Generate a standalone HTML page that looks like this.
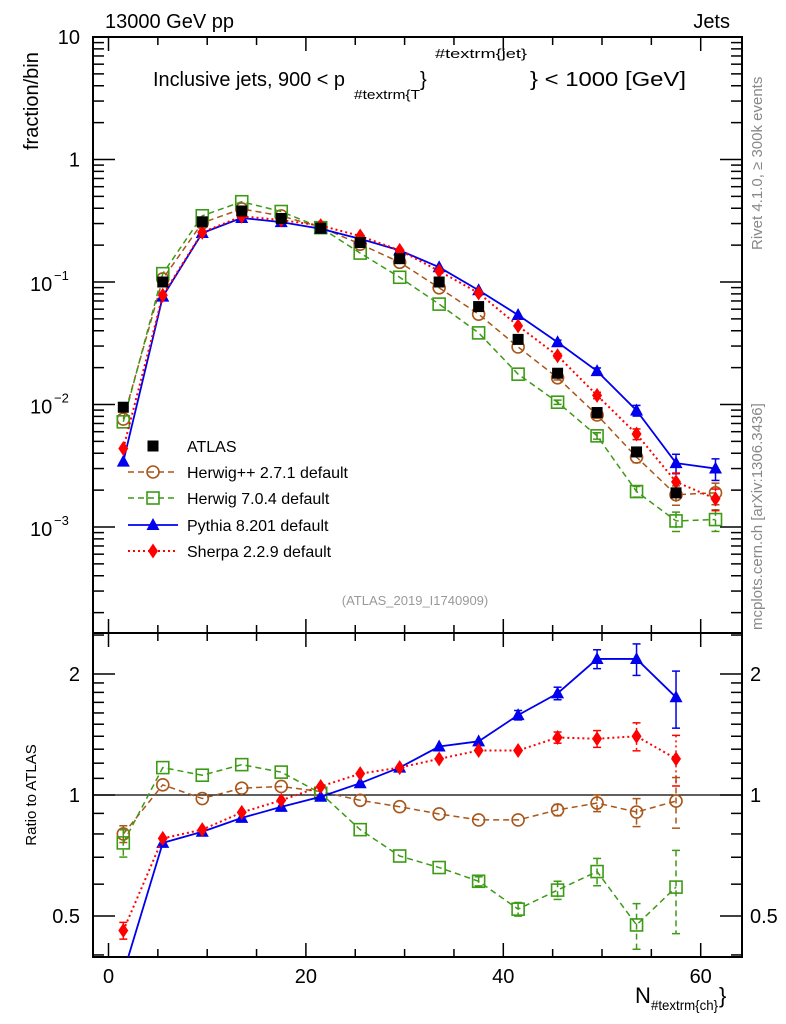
<!DOCTYPE html>
<html><head><meta charset="utf-8"><style>
html,body{margin:0;padding:0;background:#fff;}
svg{display:block;font-family:"Liberation Sans",sans-serif;}
</style></head><body>
<svg id="c" width="786" height="1024" viewBox="0 0 786 1024" xmlns="http://www.w3.org/2000/svg">
<rect width="786" height="1024" fill="#fff"/>
<text x="105" y="28" font-size="20">13000 GeV pp</text>
<text x="730" y="28" font-size="20" text-anchor="end">Jets</text>
<g font-size="20">
<text x="153" y="86" textLength="192" lengthAdjust="spacingAndGlyphs">Inclusive jets, 900 &lt; p</text>
<text x="354" y="99" font-size="13" textLength="66" lengthAdjust="spacingAndGlyphs">#textrm{T</text>
<text x="420" y="86">}</text>
<text x="435" y="58" font-size="13" textLength="92" lengthAdjust="spacingAndGlyphs">#textrm{jet}</text>
<text x="530" y="86" textLength="156" lengthAdjust="spacingAndGlyphs">} &lt; 1000 [GeV]</text>
</g>
<text transform="translate(38,150) rotate(-90)" font-size="20">fraction/bin</text>
<text transform="translate(36,795) rotate(-90)" font-size="15" text-anchor="middle">Ratio to ATLAS</text>
<text transform="translate(762,250) rotate(-90)" font-size="15" fill="#888">Rivet 4.1.0, ≥ 300k events</text>
<text transform="translate(762,630) rotate(-90)" font-size="15" fill="#888">mcplots.cern.ch [arXiv:1306.3436]</text>
<text x="415" y="605" font-size="13" fill="#999" text-anchor="middle">(ATLAS_2019_I1740909)</text>
<g>
<text x="635" y="1003" font-size="22">N</text>
<text x="651" y="1010" font-size="14" textLength="67" lengthAdjust="spacingAndGlyphs">#textrm{ch}</text>
<text x="719" y="1003" font-size="22">}</text>
</g>
<g id="g"></g>
</svg>
<script>
const bins=[1.5,5.5,9.5,13.5,17.5,21.5,25.5,29.5,33.5,37.5,41.5,45.5,49.5,53.5,57.5,61.5];
const atlas=[0.0095,0.1,0.31,0.38,0.33,0.275,0.21,0.155,0.1,0.063,0.034,0.018,0.0086,0.0041,0.0019];
const rHpp=[0.80,1.06,0.98,1.04,1.05,1.02,0.97,0.935,0.897,0.867,0.867,0.918,0.955,0.907,0.966];
const rH7=[0.76,1.17,1.12,1.19,1.14,1.01,0.82,0.705,0.66,0.61,0.52,0.58,0.645,0.475,0.59];
const rPy=[0.36,0.76,0.81,0.877,0.934,0.99,1.07,1.17,1.32,1.36,1.58,1.79,2.18,2.18,1.75];
const rSh=[0.46,0.78,0.82,0.905,0.97,1.05,1.13,1.17,1.23,1.29,1.29,1.39,1.38,1.40,1.23];
const lastTop=[0.0019,0.00115,0.0030,0.0017];
const relErr=[0.01,0.01,0.01,0.01,0.01,0.01,0.01,0.01,0.01,0.02,0.03,0.04,0.06,0.10,0.18,0.2];
const xTicks=[0,20,40,60];

const NS="http://www.w3.org/2000/svg";
const G=document.getElementById('g');
const L=93,R=742,T=37,M=633,B=957;
const X=v=>108.5+(v)*9.87;
const Yt=v=>T+(1-Math.log10(v))*122.5;
const Yr=v=>795-121*Math.log2(v);
function el(t,a,p){const e=document.createElementNS(NS,t);for(const k in a)e.setAttribute(k,a[k]);(p||G).appendChild(e);return e;}

let f1=el('rect',{x:L,y:T,width:R-L,height:M-T,fill:'none',stroke:'#000','stroke-width':2});


let f2=el('rect',{x:L,y:M,width:R-L,height:B-M,fill:'none',stroke:'#000','stroke-width':2});


for(let v=0;v<=64;v+=5){const x=X(v);if(x<L||x>R)continue;const big=v%20==0;const h=big?14:8;
 [[M,M-h],[T,T+h],[M,M+h],[B,B-h]].forEach(p=>el('line',{x1:x,x2:x,y1:p[0],y2:p[1],stroke:'#000','stroke-width':1.5}));}
xTicks.forEach(v=>{const t=el('text',{x:X(v),y:983,'font-size':20,'text-anchor':'middle'});t.textContent=v;
 
 });
const ylab={1:'10',0:'1','-1':'−1','-2':'−2','-3':'−3'};
for(let d=-4;d<=1;d++){for(let m=1;m<10;m++){const v=m*Math.pow(10,d);const y=Yt(v);if(y<T-0.5||y>M)continue;const h=m==1?22:11;
 el('line',{x1:L,x2:L+h,y1:y,y2:y,stroke:'#000','stroke-width':1.5});el('line',{x1:R,x2:R-h,y1:y,y2:y,stroke:'#000','stroke-width':1.5});}
 if(ylab[d]!==undefined){const y=Yt(Math.pow(10,d));let t;
  if(d>=0){t=el('text',{x:80,y:y+7,'font-size':20,'text-anchor':'end'});t.textContent=ylab[d];}
  else{t=el('g',{});const a=el('text',{x:30,y:y+9,'font-size':20},t);a.textContent='10';
   const b=el('text',{x:54,y:y-2,'font-size':13},t);b.textContent=ylab[d];}
  
  }}
[0.4,0.5,0.6,0.7,0.8,0.9,1,1.1,1.2,1.3,1.4,1.5,1.6,1.7,1.8,1.9,2,2.5].forEach(v=>{const y=Yr(v);if(y<M||y>B)return;const h=(v==0.5||v==1||v==2)?22:11;
 el('line',{x1:L,x2:L+h,y1:y,y2:y,stroke:'#000','stroke-width':1.5});el('line',{x1:R,x2:R-h,y1:y,y2:y,stroke:'#000','stroke-width':1.5});});
[[2,'2'],[1,'1'],[0.5,'0.5']].forEach(([v,s])=>{let t=el('text',{x:80,y:Yr(v)+7,'font-size':20,'text-anchor':'end'});t.textContent=s;
 
 
 t=el('text',{x:750,y:Yr(v)+7,'font-size':20});t.textContent=s;
 
 });
el('line',{x1:L,x2:R,y1:Yr(1),y2:Yr(1),stroke:'#000','stroke-width':1.2});

const defs=el('defs',{});
const c1=el('clipPath',{id:'ct'},defs);el('rect',{x:L,y:T,width:R-L,height:M-T},c1);
const c2=el('clipPath',{id:'cr'},defs);el('rect',{x:L,y:M,width:R-L,height:B-M},c2);

function marker(p,type,col,x,y){
 if(type=='sq')return el('rect',{x:x-5.5,y:y-5.5,width:11,height:11,fill:'#000'},p);
 if(type=='circ')return el('circle',{cx:x,cy:y,r:6,fill:'none',stroke:col,'stroke-width':1.6},p);
 if(type=='osq')return el('rect',{x:x-6,y:y-6,width:12,height:12,fill:'none',stroke:col,'stroke-width':1.6},p);
 if(type=='tri')return el('polygon',{points:`${x},${y-7} ${x-6.5},${y+5} ${x+6.5},${y+5}`,fill:col},p);
 if(type=='dia')return el('polygon',{points:`${x},${y-7.5} ${x-5},${y} ${x},${y+7.5} ${x+5},${y}`,fill:col},p);
}
const models=[
 {name:'herwigpp',r:rHpp,col:'#a8561a',dash:'6,4',type:'circ',w:1.5,label:'Herwig++ 2.7.1 default',em:0.8},
 {name:'herwig7',r:rH7,col:'#3c9a14',dash:'6,4',type:'osq',w:1.5,label:'Herwig 7.0.4 default',em:1.3},
 {name:'pythia',r:rPy,col:'#0000ee',dash:'',type:'tri',w:1.8,label:'Pythia 8.201 default',em:0.9},
 {name:'sherpa',r:rSh,col:'#ff0000',dash:'2,3',type:'dia',w:2,label:'Sherpa 2.2.9 default',em:0.8}];

models.forEach((m,k)=>{
 const top=bins.map((b,i)=>i<atlas.length?atlas[i]*m.r[i]:lastTop[k]);
 const gt=el('g',{'clip-path':'url(#ct)'});
 
 
 el('polyline',{points:bins.map((b,i)=>X(b)+','+Yt(top[i])).join(' '),fill:'none',stroke:m.col,'stroke-width':m.w,'stroke-dasharray':m.dash},gt);
 bins.forEach((b,i)=>{const e=relErr[i];if(e>0.03){el('line',{x1:X(b),x2:X(b),y1:Yt(top[i]*(1+e)),y2:Yt(top[i]*(1-e)),stroke:m.col,'stroke-width':1.5,'stroke-dasharray':m.dash},gt);
  [1+e,1-e].forEach(f=>el('line',{x1:X(b)-4,x2:X(b)+4,y1:Yt(top[i]*f),y2:Yt(top[i]*f),stroke:m.col,'stroke-width':1.5},gt));}
  const mk=marker(gt,m.type,m.col,X(b),Yt(top[i]));
  
  });
 const gr=el('g',{'clip-path':'url(#cr)'});
 
 
 el('polyline',{points:m.r.map((v,i)=>X(bins[i])+','+Yr(v)).join(' '),fill:'none',stroke:m.col,'stroke-width':m.w,'stroke-dasharray':m.dash},gr);
 m.r.forEach((v,i)=>{const e=relErr[i]*m.em*(i==0?6:1);if(e>0.025){el('line',{x1:X(bins[i]),x2:X(bins[i]),y1:Yr(v*(1+e)),y2:Yr(v*(1-e)),stroke:m.col,'stroke-width':1.5,'stroke-dasharray':m.dash},gr);
  [1+e,1-e].forEach(f=>el('line',{x1:X(bins[i])-4,x2:X(bins[i])+4,y1:Yr(v*f),y2:Yr(v*f),stroke:m.col,'stroke-width':1.5},gr));}
  const mk=marker(gr,m.type,m.col,X(bins[i]),Yr(v));
  
  });
});
const ga=el('g',{'clip-path':'url(#ct)'});


atlas.forEach((v,i)=>{const mk=marker(ga,'sq','#000',X(bins[i]),Yt(v));
 
 });

const lg=el('g',{});


const ly=[446,472,498,525,551];
marker(lg,'sq','#000',153,ly[0]);
let t0=el('text',{x:187,y:ly[0]+6,'font-size':16},lg);t0.textContent='ATLAS';


models.forEach((m,k)=>{const y=ly[k+1];
 el('line',{x1:128,x2:178,y1:y,y2:y,stroke:m.col,'stroke-width':m.w,'stroke-dasharray':m.dash},lg);
 marker(lg,m.type,m.col,153,y);
 const t=el('text',{x:187,y:y+6,'font-size':16},lg);t.textContent=m.label;
 
 });
</script>
</body></html>
